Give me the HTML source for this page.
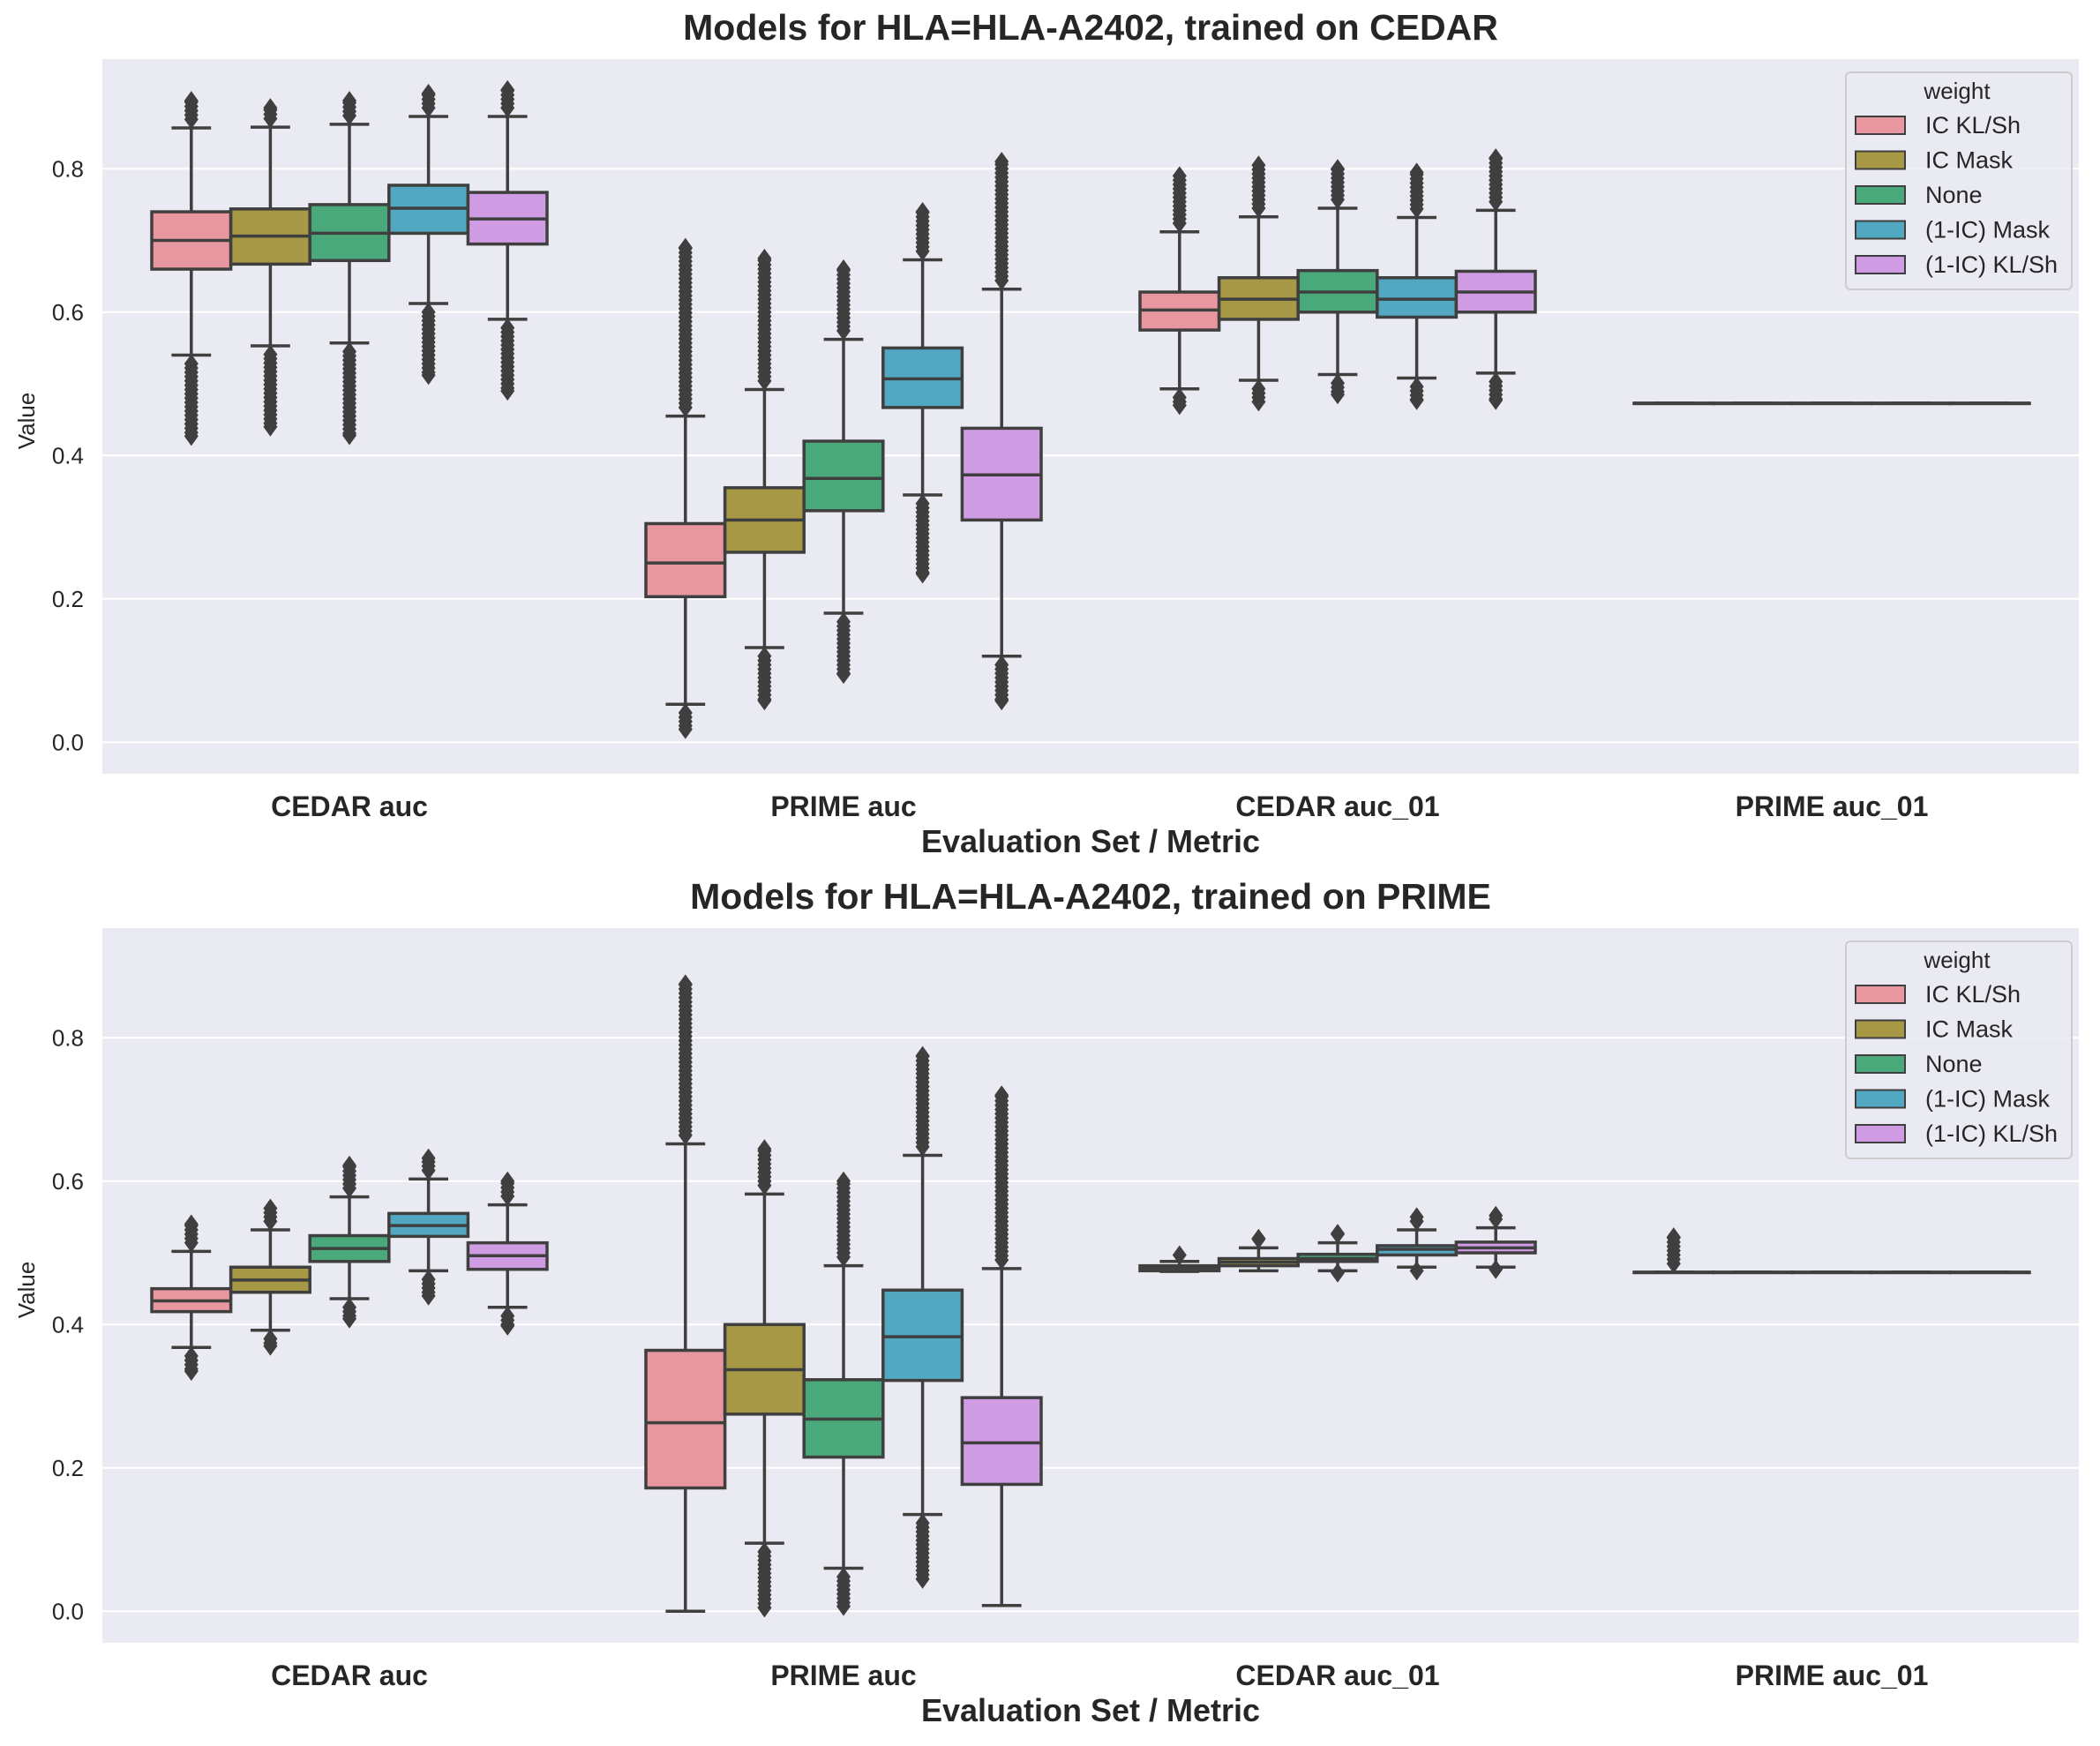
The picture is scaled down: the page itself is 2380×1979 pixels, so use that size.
<!DOCTYPE html>
<html><head><meta charset="utf-8"><style>
html,body{margin:0;padding:0;background:#fff;}
svg{display:block;font-family:"Liberation Sans",Arial,sans-serif;}
</style></head><body>
<svg id="chart" width="2380" height="1979" viewBox="0 0 2380 1979" xmlns="http://www.w3.org/2000/svg"></svg>
<script>
const categories = ["CEDAR auc","PRIME auc","CEDAR auc_01","PRIME auc_01"];
const hues = ["IC KL/Sh","IC Mask","None","(1-IC) Mask","(1-IC) KL/Sh"];
const colors = ["#e8969f","#a69844","#4aa97a","#52a8c0","#cf9ce3"];
const yTicks = [0.0,0.2,0.4,0.6,0.8];
const yTickLabels = ["0.0","0.2","0.4","0.6","0.8"];
// each box: [whiskerLow, q1, median, q3, whiskerHigh, outlierMin, outlierMax]
const cedarTrainedStats = [
 [[.54,.66,.70,.74,.857,.427,.895],[.553,.667,.706,.744,.858,.44,.885],[.557,.672,.71,.75,.862,.428,.895],[.612,.71,.745,.777,.873,.512,.905],[.59,.695,.73,.767,.873,.49,.91]],
 [[.053,.203,.25,.305,.455,.018,.69],[.132,.265,.31,.355,.492,.058,.675],[.18,.323,.368,.42,.562,.095,.66],[.345,.467,.507,.55,.673,.235,.74],[.12,.31,.373,.438,.632,.058,.81]],
 [[.493,.575,.603,.628,.712,.47,.79],[.505,.59,.618,.648,.733,.475,.805],[.513,.6,.628,.658,.745,.485,.8],[.508,.593,.618,.648,.732,.477,.795],[.515,.6,.628,.657,.742,.477,.815]],
 [[.473,.473,.473,.473,.473,null,null],[.473,.473,.473,.473,.473,null,null],[.473,.473,.473,.473,.473,null,null],[.473,.473,.473,.473,.473,null,null],[.473,.473,.473,.473,.473,null,null]]
];
const primeTrainedStats = [
 [[.368,.418,.433,.45,.502,.335,.54],[.392,.445,.462,.48,.532,.37,.562],[.436,.488,.506,.524,.578,.408,.622],[.475,.523,.538,.555,.603,.44,.632],[.424,.477,.496,.514,.567,.398,.6]],
 [[0,.172,.263,.364,.652,null,.875],[.095,.275,.337,.4,.582,.005,.645],[.06,.215,.268,.323,.482,.007,.6],[.135,.322,.383,.448,.636,.045,.775],[.008,.177,.235,.298,.478,null,.72]],
 [[.474,.475,.479,.482,.488,null,.497],[.475,.482,.487,.492,.507,null,.52],[.475,.488,.492,.498,.514,.472,.527],[.48,.497,.505,.51,.532,.475,.55],[.48,.5,.507,.515,.535,.477,.552]],
 [[.473,.473,.473,.473,.473,null,.522],[.473,.473,.473,.473,.473,null,null],[.473,.473,.473,.473,.473,null,null],[.473,.473,.473,.473,.473,null,null],[.473,.473,.473,.473,.473,null,null]]
];
const titles = ["Models for HLA=HLA-A2402, trained on CEDAR","Models for HLA=HLA-A2402, trained on PRIME"];

const NS="http://www.w3.org/2000/svg";
const svg=document.getElementById('chart');
function mk(tag,attrs,parent){const e=document.createElementNS(NS,tag);for(const k in attrs)e.setAttribute(k,attrs[k]);(parent||svg).appendChild(e);return e;}
const LINE="#3f3f3f";
const X0=116,X1=2356,YMIN=-0.044,YMAX=0.953;

function panel(stats,title,top,bottom,legendTop,idx){
  const g=mk('g',{});
  
  
  const yS=v=>bottom-(v-YMIN)/(YMAX-YMIN)*(bottom-top);
  const band=(X1-X0)/categories.length;
  const xC=i=>X0+band*(i+0.5);
  const bg=mk('rect',{x:X0,y:top,width:X1-X0,height:bottom-top,fill:"#eaeaf2"},g);
  
  
  yTicks.forEach((t,i)=>{
    const gl=mk('line',{x1:X0,x2:X1,y1:yS(t),y2:yS(t),stroke:"#fff","stroke-width":2},g);
    
    
    const tl=mk('text',{x:X0-21,y:yS(t)+9,"text-anchor":"end","font-size":26,fill:"#262626"},g);
    tl.textContent=yTickLabels[i];
    
    
  });
  const yl=mk('text',{x:0,y:0,"font-size":26,fill:"#262626","text-anchor":"middle",transform:`translate(39,${(top+bottom)/2+5}) rotate(-90)`},g);
  yl.textContent="Value";
  
  
  const bw=band*0.8/hues.length;
  stats.forEach((cat,ci)=>{
    cat.forEach((s,hi)=>{
      const cx=xC(ci)-band*0.4+bw*(hi+0.5);
      const bg2=mk('g',{},g);
      
      
      const [wl,q1,md,q3,wh,omin,omax]=s;
      const capw=bw*0.25;
      mk('line',{x1:cx,x2:cx,y1:yS(wl),y2:yS(q1),stroke:LINE,"stroke-width":3.5},bg2);
      mk('line',{x1:cx,x2:cx,y1:yS(q3),y2:yS(wh),stroke:LINE,"stroke-width":3.5},bg2);
      mk('line',{x1:cx-capw,x2:cx+capw,y1:yS(wl),y2:yS(wl),stroke:LINE,"stroke-width":3.5},bg2);
      mk('line',{x1:cx-capw,x2:cx+capw,y1:yS(wh),y2:yS(wh),stroke:LINE,"stroke-width":3.5},bg2);
      mk('rect',{x:cx-bw/2,y:yS(q3),width:bw,height:Math.max(0.5,yS(q1)-yS(q3)),fill:colors[hi],stroke:LINE,"stroke-width":3.5},bg2);
      mk('line',{x1:cx-bw/2,x2:cx+bw/2,y1:yS(md),y2:yS(md),stroke:LINE,"stroke-width":3.5},bg2);
      const dia=v=>{const y=yS(v);mk('path',{d:`M${cx} ${y-11}L${cx+8} ${y}L${cx} ${y+11}L${cx-8} ${y}Z`,fill:LINE},bg2);};
      if(omax!==null){for(let v=wh+0.012;v<omax;v+=0.006)dia(v);dia(omax);}
      if(omin!==null){for(let v=wl-0.012;v>omin;v-=0.006)dia(v);dia(omin);}
    });
    const xl=mk('text',{x:xC(ci),y:bottom+48,"text-anchor":"middle","font-size":32,"font-weight":"bold",fill:"#262626"},g);
    xl.textContent=categories[ci];
    
    
  });
  const xa=mk('text',{x:(X0+X1)/2,y:bottom+89,"text-anchor":"middle","font-size":36,"font-weight":"bold",fill:"#262626"},g);
  xa.textContent="Evaluation Set / Metric";
  
  
  const tt=mk('text',{x:(X0+X1)/2,y:top-22,"text-anchor":"middle","font-size":41,"font-weight":"bold",fill:"#262626"},g);
  tt.textContent=title;
  
  
  const lg=mk('g',{},g);
  
  
  mk('rect',{x:2092,y:legendTop,width:256,height:246,rx:5,fill:"#eaeaf2","fill-opacity":0.8,stroke:"#cccccc","stroke-width":2},lg);
  const lt=mk('text',{x:2218,y:legendTop+30,"text-anchor":"middle","font-size":26,fill:"#262626"},lg);
  lt.textContent="weight";
  
  
  hues.forEach((h,i)=>{
    const cy=legendTop+60+i*39.5;
    const le=mk('g',{},lg);
    
    
    mk('rect',{x:2103,y:cy-10,width:56,height:20,fill:colors[i],stroke:LINE,"stroke-width":2},le);
    const t=mk('text',{x:2182,y:cy+9,"font-size":27,fill:"#262626"},le);
    t.textContent=h;
  });
}
panel(cedarTrainedStats,titles[0],67,877,82,0);
panel(primeTrainedStats,titles[1],1052,1862,1067,1);
</script>
</body></html>
